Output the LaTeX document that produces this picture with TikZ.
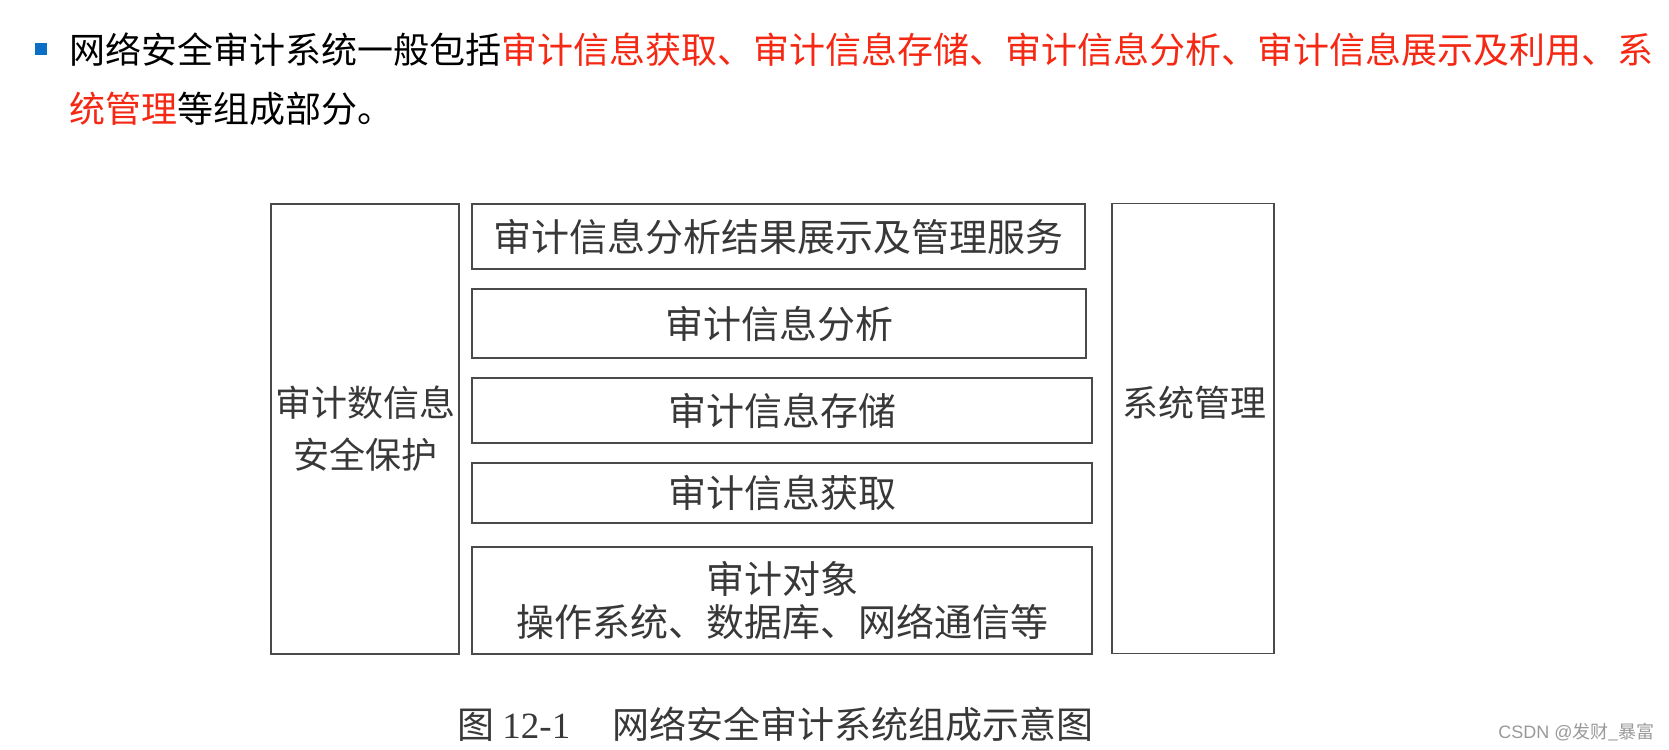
\documentclass[tikz,border=0pt]{standalone}
\usepackage{fontspec}
\setmainfont{Noto Sans CJK SC}
\newfontfamily\numfont{Liberation Serif}
\newfontfamily\latinfont{Liberation Sans}
\usetikzlibrary{positioning}
\definecolor{hot}{HTML}{F52814}
\definecolor{bulletblue}{HTML}{0B6FC6}
\definecolor{ink}{HTML}{383838}
\definecolor{frame}{HTML}{4A4A4A}
\tikzset{
  % One line of the heading sentence
  headline/.style={anchor=west, inner sep=0pt, font=\fontsize{36}{40}\selectfont},
  % A layer of the audit stack
  layer/.style={draw=frame, line width=1.8pt, inner sep=0pt, text=ink,
    align=center, font=\fontsize{38}{43}\selectfont,
    minimum width=#1},
  % A tall side column
  column/.style={draw=frame, line width=1.8pt, inner sep=0pt, text=ink,
    align=center, minimum height=450pt, minimum width=#1},
  % Caption under the figure
  capt/.style={anchor=west, inner sep=0pt, text=ink, font=\fontsize{37}{40}\selectfont},
}

\begin{document}
\begin{tikzpicture}[x=1pt, y=-1pt]

  \useasboundingbox (0,0) rectangle (1669,749);

  % heading
  \fill[bulletblue] (35,43) rectangle (47,55) coordinate (bullet);
  \node[headline] (headA) at (69,50)
    {网络安全审计系统一般包括\textcolor{hot}{审计信息获取、审计信息存储、审计信息分析、审计信息展示及利用、系}};
  \node[headline] (headB) at (69,109)
    {\textcolor{hot}{统管理}等组成部分。};

  % side columns
  \node[column=188pt, font=\fontsize{36}{52}\selectfont] (protect) at (365,429)
    {审计数信息\\安全保护};
  \node[column=162pt] (sysmgmt) at (1193,428.5) {};
  \node[inner sep=0pt, text=ink, font=\fontsize{36}{40}\selectfont] (sysname) at (1194,403) {系统管理};

  % audit stack, top to bottom
  \node[layer=613pt, minimum height=65pt] (present) at (778.5,236.5) {审计信息分析结果展示及管理服务};
  \node[layer=614pt, minimum height=69pt] (analyse) at (779,323.5) {审计信息分析};
  \node[layer=620pt, minimum height=65pt] (store) at (782,410.5) {审计信息存储};
  \node[layer=620pt, minimum height=60pt] (acquire) at (782,493) {审计信息获取};
  \node[layer=620pt, minimum height=107pt] (target) at (782,600.5)
    {审计对象\\操作系统、数据库、网络通信等};

  % caption
  \node[capt] (caption) at (457,724)
    {图 {\numfont 12-1}\hspace{42pt}网络安全审计系统组成示意图};

  % watermark
  \node[anchor=east, inner sep=0pt, text=black!40, font=\fontsize{18}{20}\selectfont] (mark) at (1655,732)
    {{\latinfont CSDN @}发财\_暴富};

\end{tikzpicture}
\end{document}
